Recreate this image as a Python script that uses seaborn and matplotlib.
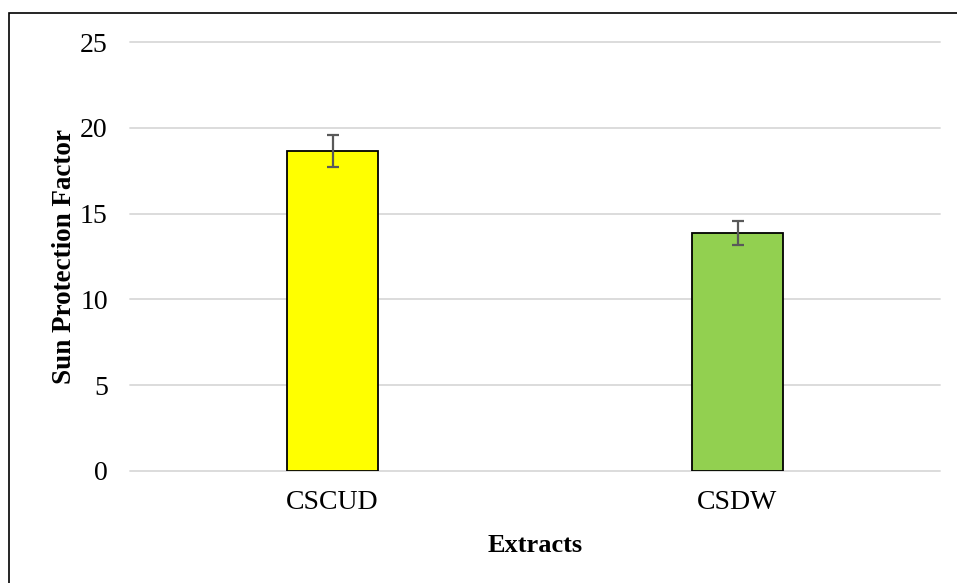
import matplotlib
matplotlib.use("Agg")
import matplotlib.pyplot as plt
import seaborn as sns
import pandas as pd
from matplotlib.patches import Rectangle

categories = ["CSCUD", "CSDW"]
spf_values = [18.65, 13.85]
spf_errors = [0.93, 0.70]
bar_colors = ["#FFFF00", "#92D050"]
y_ticks = [0, 5, 10, 15, 20, 25]

df = pd.DataFrame({"Extracts": categories, "SPF": spf_values})

sns.set_theme(style="white")
plt.rcParams["font.family"] = ["Liberation Serif", "DejaVu Serif"]

fig = plt.figure(figsize=(9.57, 5.83), dpi=100)
ax = fig.add_axes([130/957, 112/583, 810/957, 429/583])

sns.barplot(data=df, x="Extracts", y="SPF", hue="Extracts", palette=bar_colors,
            saturation=1, width=0.225, edgecolor="black", linewidth=1.3,
            legend=False, ax=ax, errorbar=None, zorder=3)
ax.errorbar(range(len(categories)), spf_values, yerr=spf_errors, fmt="none",
            ecolor="#595959", elinewidth=1.6, capsize=4.5, capthick=1.6, zorder=4)

ax.set_xlim(-0.5, 1.5)
ax.set_ylim(0, 25)
ax.set_yticks(y_ticks)
ax.yaxis.grid(True, color="#d9d9d9", linewidth=1.3, zorder=0)
ax.set_axisbelow(True)
for gl in ax.get_ygridlines():
    gl.set_clip_on(False)
for s in ax.spines.values():
    s.set_visible(False)
ax.tick_params(axis="both", length=0, labelsize=20, labelcolor="black")
ax.tick_params(axis="y", pad=16)
ax.tick_params(axis="x", pad=14)
ax.set_xlabel("Extracts", fontsize=19, fontweight="bold", labelpad=13, color="black")
ax.set_ylabel("Sun Protection Factor", fontsize=19.5, fontweight="bold", labelpad=2, color="black")

fig.patches.append(Rectangle((9/957, -0.1), 1.0, 1.1 - 13/583, transform=fig.transFigure,
                             fill=False, edgecolor="black", linewidth=1.2))

fig.savefig("out.png", dpi=100)
